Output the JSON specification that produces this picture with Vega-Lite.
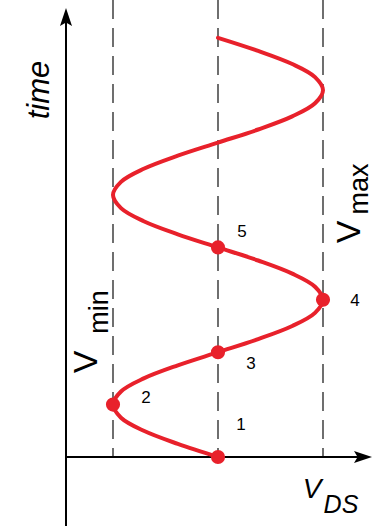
{
  "$schema": "https://vega.github.io/schema/vega-lite/v6.json",
  "width": 373,
  "height": 526,
  "autosize": {"type": "none"},
  "padding": 0,
  "background": "white",
  "config": {"view": {"stroke": null}},
  "datasets": {
    "wave": [
      {"t": 0, "V": 0}, {"t": 0.25, "V": -0.3827}, {"t": 0.5, "V": -0.7071}, {"t": 0.75, "V": -0.9239},
      {"t": 1, "V": -1}, {"t": 1.25, "V": -0.9239}, {"t": 1.5, "V": -0.7071}, {"t": 1.75, "V": -0.3827},
      {"t": 2, "V": 0}, {"t": 2.25, "V": 0.3827}, {"t": 2.5, "V": 0.7071}, {"t": 2.75, "V": 0.9239},
      {"t": 3, "V": 1}, {"t": 3.25, "V": 0.9239}, {"t": 3.5, "V": 0.7071}, {"t": 3.75, "V": 0.3827},
      {"t": 4, "V": 0}, {"t": 4.25, "V": -0.3827}, {"t": 4.5, "V": -0.7071}, {"t": 4.75, "V": -0.9239},
      {"t": 5, "V": -1}, {"t": 5.25, "V": -0.9239}, {"t": 5.5, "V": -0.7071}, {"t": 5.75, "V": -0.3827},
      {"t": 6, "V": 0}, {"t": 6.25, "V": 0.3827}, {"t": 6.5, "V": 0.7071}, {"t": 6.75, "V": 0.9239},
      {"t": 7, "V": 1}, {"t": 7.25, "V": 0.9239}, {"t": 7.5, "V": 0.7071}, {"t": 7.75, "V": 0.3827},
      {"t": 8, "V": 0}
    ],
    "states": [
      {"state": "1", "t": 0, "V": 0},
      {"state": "2", "t": 1, "V": -1},
      {"state": "3", "t": 2, "V": 0},
      {"state": "4", "t": 3, "V": 1},
      {"state": "5", "t": 4, "V": 0}
    ],
    "stateLabels": [
      {"txt": "1", "V": 0.219, "t": 0.611},
      {"txt": "2", "V": -0.686, "t": 1.126},
      {"txt": "3", "V": 0.314, "t": 1.775},
      {"txt": "4", "V": 1.305, "t": 2.977},
      {"txt": "5", "V": 0.229, "t": 4.294}
    ],
    "levels": [
      {"level": "Vmin", "V": -1, "t": 8.7214, "t2": 0},
      {"level": "V0", "V": 0, "t": 8.7214, "t2": 0},
      {"level": "Vmax", "V": 1, "t": 8.7214, "t2": 0}
    ],
    "timeAxis": [{"V": -1.4476, "t": -1.3168, "t2": 8.397}],
    "vAxis": [{"V": -1.4476, "V2": 1.381, "t": 0}],
    "timeArrow": [{"V": -1.4476, "t": 8.397}],
    "vArrow": [{"V": 1.381, "t": 0}],
    "timeTitle": [{"txt": "time", "V": -1.695, "t": 7.004}],
    "levelV": [
      {"txt": "V", "V": -1.152, "t": 1.813},
      {"txt": "V", "V": 1.352, "t": 4.294}
    ],
    "levelSub": [
      {"txt": "min", "V": -1.048, "t": 2.767},
      {"txt": "max", "V": 1.43, "t": 5.115}
    ],
    "vdsV": [{"txt": "V", "V": 0.895, "t": -0.782}],
    "vdsSub": [{"txt": "DS", "V": 1.171, "t": -1.069}]
  },
  "encoding": {
    "x": {"field": "V", "type": "quantitative", "scale": {"domain": [-2.07619, 1.47619], "nice": false, "zero": false}, "axis": null},
    "y": {"field": "t", "type": "quantitative", "scale": {"domain": [-1.3168, 8.7214], "nice": false, "zero": false}, "axis": null}
  },
  "layer": [
    {
      "data": {"name": "levels"},
      "mark": {"type": "rule", "color": "#222222", "strokeWidth": 1.3, "strokeDash": [19, 9]},
      "encoding": {"y2": {"field": "t2"}}
    },
    {
      "data": {"name": "timeAxis"},
      "mark": {"type": "rule", "color": "black", "strokeWidth": 2},
      "encoding": {"y2": {"field": "t2"}}
    },
    {
      "data": {"name": "vAxis"},
      "mark": {"type": "rule", "color": "black", "strokeWidth": 2},
      "encoding": {"x2": {"field": "V2"}}
    },
    {
      "data": {"name": "timeArrow"},
      "mark": {"type": "point", "shape": "M0,-1L0.667,1L0,0.6L-0.667,1Z", "filled": true, "color": "black", "opacity": 1, "size": 324}
    },
    {
      "data": {"name": "vArrow"},
      "mark": {"type": "point", "shape": "M1,0L-1,-0.667L-0.6,0L-1,0.667Z", "filled": true, "color": "black", "opacity": 1, "size": 324}
    },
    {
      "data": {"name": "wave"},
      "mark": {"type": "line", "interpolate": "catmull-rom", "color": "#e8212b", "strokeWidth": 4, "strokeCap": "round"},
      "encoding": {"order": {"field": "t", "type": "quantitative"}}
    },
    {
      "data": {"name": "states"},
      "mark": {"type": "circle", "color": "#e8212b", "opacity": 1, "size": 200}
    },
    {
      "data": {"name": "stateLabels"},
      "mark": {"type": "text", "font": "Liberation Sans", "fontSize": 17, "color": "black", "align": "center", "baseline": "middle"},
      "encoding": {"text": {"field": "txt"}}
    },
    {
      "data": {"name": "timeTitle"},
      "mark": {"type": "text", "font": "Liberation Sans", "fontSize": 31, "fontStyle": "italic", "color": "black", "angle": 270, "align": "center", "baseline": "middle"},
      "encoding": {"text": {"field": "txt"}}
    },
    {
      "data": {"name": "levelV"},
      "mark": {"type": "text", "font": "Liberation Sans", "fontSize": 34, "color": "black", "angle": 270, "align": "center", "baseline": "alphabetic"},
      "encoding": {"text": {"field": "txt"}}
    },
    {
      "data": {"name": "levelSub"},
      "mark": {"type": "text", "font": "Liberation Sans", "fontSize": 27, "color": "black", "angle": 270, "align": "center", "baseline": "alphabetic"},
      "encoding": {"text": {"field": "txt"}}
    },
    {
      "data": {"name": "vdsV"},
      "mark": {"type": "text", "font": "Liberation Sans", "fontSize": 28, "fontStyle": "italic", "color": "black", "align": "center", "baseline": "alphabetic"},
      "encoding": {"text": {"field": "txt"}}
    },
    {
      "data": {"name": "vdsSub"},
      "mark": {"type": "text", "font": "Liberation Sans", "fontSize": 25, "fontStyle": "italic", "color": "black", "align": "center", "baseline": "alphabetic"},
      "encoding": {"text": {"field": "txt"}}
    }
  ]
}
